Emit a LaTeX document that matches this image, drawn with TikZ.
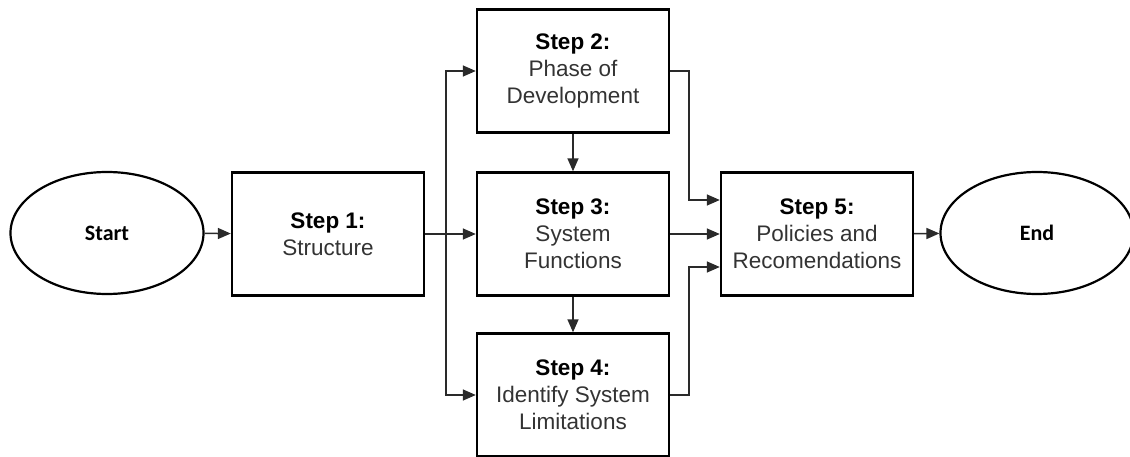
\documentclass[tikz,border=0pt]{standalone}
\usepackage{fontspec}
\setmainfont{Liberation Sans}
\newfontfamily\ovalfont{Carlito}
\usetikzlibrary{shapes.geometric,arrows.meta,positioning,calc}
\definecolor{txtgray}{HTML}{333333}
\definecolor{linegray}{HTML}{2A2A2A}
\begin{document}
\begin{tikzpicture}[x=1pt,y=-1pt,
  stepbox/.style={draw=black,line width=2.4pt,rectangle,minimum width=192pt,minimum height=123pt,
    inner sep=0pt,align=center,text=txtgray,font=\fontsize{22.5}{27}\selectfont},
  oval/.style={draw=black,line width=2.2pt,ellipse,minimum width=193pt,minimum height=122pt,
    inner sep=0pt,font=\ovalfont\bfseries\fontsize{22}{26}\selectfont},
  arr/.style={draw=linegray,line width=1.5pt,-{Triangle[length=13pt,width=11pt]}},
  ln/.style={draw=linegray,line width=1.5pt}]
\useasboundingbox (0,0) rectangle (1130,457);
\node[oval] (start) at (107,233) {Start};
\node[stepbox] (s1) at (328,234) {\textbf{\color{black}Step 1:}\\Structure};
\node[stepbox] (s2) at (573,71) {\textbf{\color{black}Step 2:}\\Phase of\\Development};
\node[stepbox] (s3) at (573,234) {\textbf{\color{black}Step 3:}\\System\\Functions};
\node[stepbox] (s4) at (573,395) {\textbf{\color{black}Step 4:}\\Identify System\\Limitations};
\node[stepbox] (s5) at (817,234) {\textbf{\color{black}Step 5:}\\Policies and\\Recomendations};
\node[oval] (end) at (1037,233) {End};
\coordinate (split) at (446,234);
\coordinate (joinA) at (689,71);
\coordinate (joinB) at (689,395);
% main line and branches out of step 1
\draw[arr] (start) -- (s1);
\draw[arr] (s1) -- (s3);
\draw[arr] (split) |- (s2.west);
\draw[arr] (split) |- (s4.west);
% vertical flow in the middle column
\draw[arr] (s2) -- (s3);
\draw[arr] (s3) -- (s4);
% inputs of step 5
\draw[arr] (s2.east) -- (joinA) |- ([yshift=34pt]s5.west);
\draw[arr] (s3) -- (s5);
\draw[arr] (s4.east) -- (joinB) |- ([yshift=-33pt]s5.west);
\draw[arr] (s5) -- (end);
\end{tikzpicture}
\end{document}
